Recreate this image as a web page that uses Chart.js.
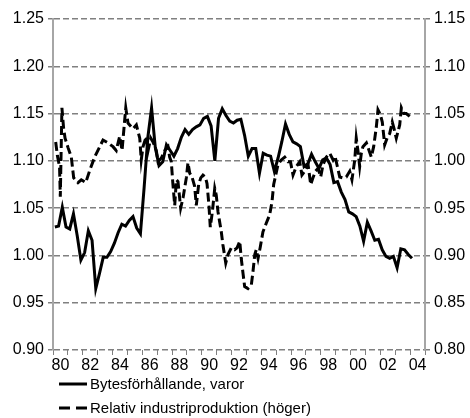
<!DOCTYPE html>
<html><head><meta charset="utf-8">
<script src="https://cdn.jsdelivr.net/npm/chart.js@4/dist/chart.umd.min.js"></script>
<style>html,body{margin:0;padding:0;background:#fff}#wrap{width:470px;height:418px}</style>
</head><body><div id="wrap"><canvas id="c" width="470" height="418"></canvas></div>
<script>
// ---- data ----
const seriesNames = ['Bytesförhållande, varor', 'Relativ industriproduktion (höger)'];
const firstYear = 1980, lastYear = 2005;
const yearLabelsShown = ['80','82','84','86','88','90','92','94','96','98','00','02','04'];
// Solid series: quarterly, 1980Q1 .. 2004Q1 (left axis)
const solidValues = [
  1.030,1.031,1.051,1.030,1.028,1.044,1.021,0.995,1.003,1.026,
  1.016,0.965,0.981,0.998,0.998,1.004,1.013,1.024,1.033,1.031,
  1.037,1.041,1.029,1.023,1.072,1.125,1.156,1.114,1.095,1.099,
  1.117,1.111,1.105,1.113,1.125,1.133,1.128,1.133,1.136,1.138,
  1.145,1.147,1.137,1.100,1.145,1.155,1.148,1.142,1.140,1.143,
  1.144,1.127,1.105,1.113,1.113,1.087,1.108,1.106,1.105,1.089,
  1.103,1.120,1.139,1.128,1.120,1.118,1.115,1.094,1.097,1.107,
  1.099,1.092,1.101,1.103,1.096,1.077,1.078,1.067,1.059,1.046,
  1.044,1.041,1.031,1.015,1.035,1.026,1.016,1.017,1.006,0.999,
  0.997,0.999,0.987,1.007,1.006,1.001,0.997
];
// Dashed series (right axis): dates in decimal years and values
const dashDates = [
  1980.18,1980.30,1980.44,1980.49,1980.60,1980.71,1980.81,1981.01,1981.23,1981.39,
  1981.68,1981.90,1982.20,1982.47,1982.80,1983.02,1983.36,1983.70,1984.03,1984.25,
  1984.48,1984.64,1984.89,1985.04,1985.15,1985.38,1985.60,1985.83,1985.93,1986.05,
  1986.27,1986.38,1986.57,1986.72,1986.94,1987.06,1987.28,1987.51,1987.73,1987.84,
  1987.95,1988.06,1988.18,1988.29,1988.40,1988.58,1988.74,1988.96,1989.07,1989.19,
  1989.34,1989.52,1989.63,1989.79,1989.93,1990.08,1990.24,1990.35,1990.48,1990.57,
  1990.71,1990.87,1990.97,1991.09,1991.31,1991.42,1991.61,1991.76,1991.98,1992.21,
  1992.37,1992.55,1992.65,1992.77,1992.88,1993.10,1993.33,1993.44,1993.56,1993.66,
  1993.78,1993.93,1994.11,1994.33,1994.56,1994.72,1994.83,1994.97,1995.12,1995.34,
  1995.57,1995.79,1995.96,1996.13,1996.35,1996.58,1996.73,1996.92,1997.14,1997.32,
  1997.47,1997.63,1997.81,1997.99,1998.15,1998.37,1998.60,1998.82,1998.95,1999.11,
  1999.27,1999.49,1999.71,1999.94,2000.09,2000.28,2000.38,2000.50,2000.61,2000.72,
  2000.83,2001.06,2001.24,2001.39,2001.55,2001.73,2001.84,2002.00,2002.13,2002.29,
  2002.45,2002.63,2002.80,2002.92,2003.07,2003.30,2003.41,2003.57,2003.74,2003.97
];
const dashValues = [
  1.020,1.005,0.994,0.962,1.056,1.035,1.024,1.014,1.004,0.982,
  0.977,0.980,0.977,0.990,1.004,1.011,1.022,1.019,1.015,1.011,
  1.026,1.011,1.056,1.040,1.038,1.034,1.038,1.024,1.001,1.015,
  1.026,1.010,1.024,1.020,1.011,0.999,1.003,1.011,1.015,1.004,
  0.999,0.975,0.953,0.980,0.978,0.950,0.961,0.982,0.998,0.987,
  0.983,0.973,0.953,0.975,0.982,0.985,0.983,0.976,0.953,0.930,
  0.946,0.971,0.964,0.946,0.925,0.911,0.892,0.901,0.908,0.906,
  0.908,0.915,0.897,0.881,0.867,0.865,0.869,0.883,0.901,0.906,
  0.897,0.909,0.925,0.934,0.943,0.957,0.975,0.985,0.996,1.001,
  1.004,0.999,0.999,0.985,0.994,0.999,0.985,0.989,0.996,0.975,
  0.982,0.989,0.992,0.983,0.996,1.004,1.008,1.001,1.005,0.994,
  0.983,0.982,0.983,0.989,0.980,1.001,1.024,1.010,0.994,1.008,
  1.015,1.019,1.011,1.004,1.015,1.036,1.054,1.049,1.041,1.017,
  1.024,1.029,1.041,1.034,1.024,1.038,1.056,1.050,1.050,1.047
];
const leftMin = 0.90, leftMax = 1.25, rightMin = 0.80, rightMax = 1.15, tickStep = 0.05;

// ---- build ----
const solidData = solidValues.map((v, i) => ({ x: firstYear + 0.125 + i * 0.25, y: v }));
const dashData = dashValues.map((v, i) => ({ x: dashDates[i], y: v }));
const yearTicks = [];
for (let y = firstYear; y <= lastYear; y++) yearTicks.push(y);

const GRID = '#808080';
const AXIS = '#a6a6a6';
const FONT = { family: '"Liberation Sans", Arial, sans-serif', size: 16 };
const LEGEND_FONT = { family: '"Liberation Sans", Arial, sans-serif', size: 15 };

const legendPlugin = {
  id: 'stackedLegend',
  afterDraw(chart) {
    const { ctx, chartArea } = chart;
    const x0 = chartArea.left + 6;
    chart.data.datasets.forEach((ds, i) => {
      const y = chartArea.bottom + 34 + i * 24;
      ctx.save();
      ctx.strokeStyle = '#000';
      ctx.lineWidth = 3;
      ctx.setLineDash(i === 0 ? [] : [11, 6]);
      ctx.beginPath(); ctx.moveTo(x0, y); ctx.lineTo(x0 + 28, y); ctx.stroke();
      ctx.setLineDash([]);
      ctx.fillStyle = '#000';
      ctx.font = LEGEND_FONT.size + 'px ' + LEGEND_FONT.family;
      ctx.textBaseline = 'middle';
      ctx.fillText(ds.label, x0 + 31, y + 1);
      ctx.restore();
    });
  }
};

new Chart(document.getElementById('c'), {
  type: 'line',
  data: {
    datasets: [
      { label: seriesNames[0], data: solidData, yAxisID: 'y', borderColor: '#000', borderWidth: 3, pointRadius: 0, tension: 0, fill: false },
      { label: seriesNames[1], data: dashData, yAxisID: 'y1', borderColor: '#000', borderWidth: 3, borderDash: [9, 4], pointRadius: 0, tension: 0, fill: false }
    ]
  },
  options: {
    responsive: false, animation: false, devicePixelRatio: 1,
    layout: { padding: { top: 19, left: 0, right: 0, bottom: 0 } },
    plugins: { legend: { display: false }, tooltip: { enabled: false } },
    scales: {
      x: {
        type: 'linear', min: firstYear, max: lastYear,
        afterBuildTicks: (axis) => { axis.ticks = yearTicks.map(v => ({ value: v })); },
        afterFit: (s) => { s.height = 68; },
        ticks: {
          autoSkip: false, maxRotation: 0, minRotation: 0, labelOffset: 7.44, padding: 1,
          color: '#000', font: FONT,
          callback: (v) => {
            const lbl = String(v % 100).padStart(2, '0');
            return (v < lastYear && yearLabelsShown.includes(lbl)) ? lbl : '';
          }
        },
        grid: { drawOnChartArea: false, color: GRID, tickLength: 5, lineWidth: 1, tickBorderDash: [] },
        border: { display: false }
      },
      y: {
        position: 'left', min: leftMin, max: leftMax,
        afterFit: (s) => { s.width = 53; },
        ticks: { stepSize: tickStep, padding: 4, color: '#000', font: FONT, callback: (v) => v.toFixed(2) },
        grid: { color: GRID, lineWidth: 1.5, tickLength: 5, tickBorderDash: [], tickColor: GRID },
        border: { display: true, color: AXIS, width: 2, dash: [6, 3] }
      },
      y1: {
        position: 'right', min: rightMin, max: rightMax,
        afterFit: (s) => { s.width = 45; },
        ticks: { stepSize: tickStep, padding: 4, color: '#000', font: FONT, callback: (v) => v.toFixed(2) },
        grid: { drawOnChartArea: false, color: GRID, lineWidth: 1.5, tickLength: 5, tickBorderDash: [] },
        border: { display: true, color: AXIS, width: 2 }
      }
    }
  },
  plugins: [legendPlugin]
});
</script>
</body></html>
